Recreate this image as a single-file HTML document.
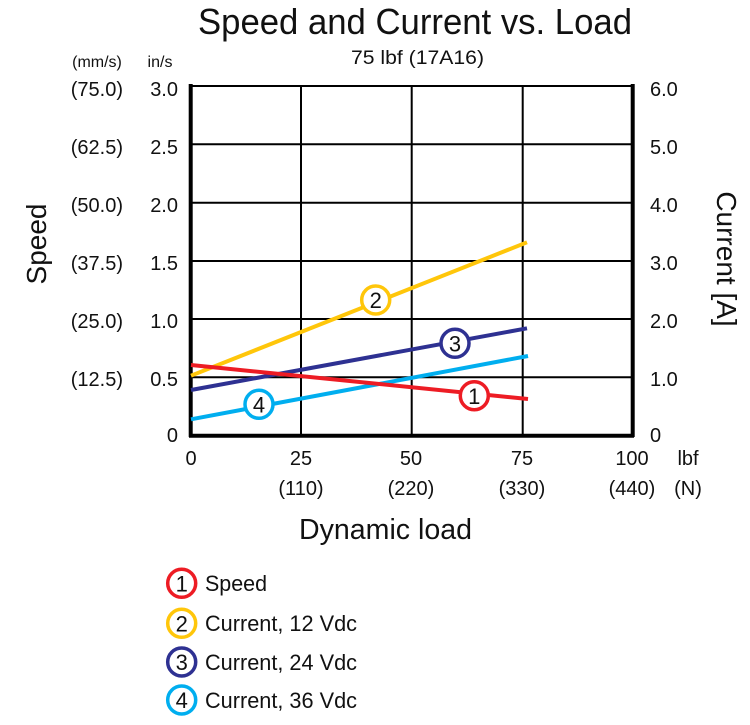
<!DOCTYPE html>
<html><head><meta charset="utf-8"><style>
html,body{margin:0;padding:0;background:#fff;}
svg{display:block;}
text{font-family:"Liberation Sans Narrow","Liberation Sans",sans-serif;fill:#111;}
</style></head><body>
<svg width="750" height="725" viewBox="0 0 750 725" xmlns="http://www.w3.org/2000/svg">
<text x="198" y="34" font-size="36" textLength="434" lengthAdjust="spacingAndGlyphs">Speed and Current vs. Load</text>
<text x="351" y="64" font-size="19" textLength="133" lengthAdjust="spacingAndGlyphs">75 lbf (17A16)</text>
<text x="97" y="67" font-size="16" text-anchor="middle">(mm/s)</text>
<text x="160" y="67" font-size="16" text-anchor="middle">in/s</text>
<g stroke="#000" stroke-width="2">
<line x1="191" y1="144.3" x2="633" y2="144.3"/><line x1="191" y1="202.7" x2="633" y2="202.7"/>
<line x1="191" y1="261" x2="633" y2="261"/><line x1="191" y1="319" x2="633" y2="319"/>
<line x1="191" y1="377.3" x2="633" y2="377.3"/>
<line x1="301" y1="86" x2="301" y2="436"/><line x1="411.7" y1="86" x2="411.7" y2="436"/><line x1="522.7" y1="86" x2="522.7" y2="436"/>
<line x1="191" y1="86" x2="633" y2="86"/>
</g>
<g stroke="#000" stroke-width="4">
<line x1="190.7" y1="84" x2="190.7" y2="437"/><line x1="632.7" y1="84" x2="632.7" y2="437"/>
<line x1="189" y1="435.7" x2="634" y2="435.7"/>
</g>
<g font-size="20" text-anchor="end">
<text x="178" y="96">3.0</text><text x="178" y="154">2.5</text><text x="178" y="212">2.0</text><text x="178" y="270">1.5</text><text x="178" y="328">1.0</text><text x="178" y="386">0.5</text><text x="178" y="442">0</text>
<text x="123" y="96">(75.0)</text><text x="123" y="154">(62.5)</text><text x="123" y="212">(50.0)</text><text x="123" y="270">(37.5)</text><text x="123" y="328">(25.0)</text><text x="123" y="386">(12.5)</text>
</g>
<g font-size="20" text-anchor="start">
<text x="650" y="96">6.0</text><text x="650" y="154">5.0</text><text x="650" y="212">4.0</text><text x="650" y="270">3.0</text><text x="650" y="328">2.0</text><text x="650" y="386">1.0</text><text x="650" y="442">0</text>
</g>
<g font-size="20" text-anchor="middle">
<text x="191" y="465">0</text><text x="301" y="465">25</text><text x="411" y="465">50</text><text x="522" y="465">75</text><text x="632" y="465">100</text><text x="688" y="465">lbf</text>
<text x="301" y="495">(110)</text><text x="411" y="495">(220)</text><text x="522" y="495">(330)</text><text x="632" y="495">(440)</text><text x="688" y="495">(N)</text>
</g>
<text x="299" y="539" font-size="29" textLength="173" lengthAdjust="spacingAndGlyphs">Dynamic load</text>
<text transform="translate(46,244) rotate(-90)" font-size="28" text-anchor="middle">Speed</text>
<text transform="translate(717,259) rotate(90)" font-size="28" text-anchor="middle">Current [A]</text>
<g stroke-width="4">
<line x1="191" y1="375.7" x2="527" y2="242.3" stroke="#ffc60a"/>
<line x1="191" y1="390" x2="527" y2="328.3" stroke="#2e3192"/>
<line x1="191" y1="419.3" x2="528" y2="356" stroke="#00aeef"/>
<line x1="191" y1="365" x2="528" y2="399" stroke="#ed1c24"/>
</g>
<g stroke-width="3.5" fill="#fff" font-size="22" text-anchor="middle">
<circle cx="375.7" cy="300" r="14" stroke="#ffc60a"/><text x="375.7" y="308">2</text>
<circle cx="455" cy="343.3" r="14" stroke="#2e3192"/><text x="455" y="351.5">3</text>
<circle cx="474.3" cy="395.7" r="14" stroke="#ed1c24"/><text x="474.3" y="404">1</text>
<circle cx="259" cy="404.3" r="14" stroke="#00aeef"/><text x="259" y="412.5">4</text>
<circle cx="181.7" cy="583.3" r="14" stroke="#ed1c24"/><text x="181.7" y="591.5">1</text>
<circle cx="181.7" cy="623.3" r="14" stroke="#ffc60a"/><text x="181.7" y="631.5">2</text>
<circle cx="181.7" cy="662" r="14" stroke="#2e3192"/><text x="181.7" y="670">3</text>
<circle cx="181.7" cy="700" r="14" stroke="#00aeef"/><text x="181.7" y="708">4</text>
</g>
<g font-size="22">
<text x="205" y="591" textLength="62" lengthAdjust="spacingAndGlyphs">Speed</text>
<text x="205" y="631" textLength="152" lengthAdjust="spacingAndGlyphs">Current, 12 Vdc</text>
<text x="205" y="670" textLength="152" lengthAdjust="spacingAndGlyphs">Current, 24 Vdc</text>
<text x="205" y="708" textLength="152" lengthAdjust="spacingAndGlyphs">Current, 36 Vdc</text>
</g>
</svg>
</body></html>
